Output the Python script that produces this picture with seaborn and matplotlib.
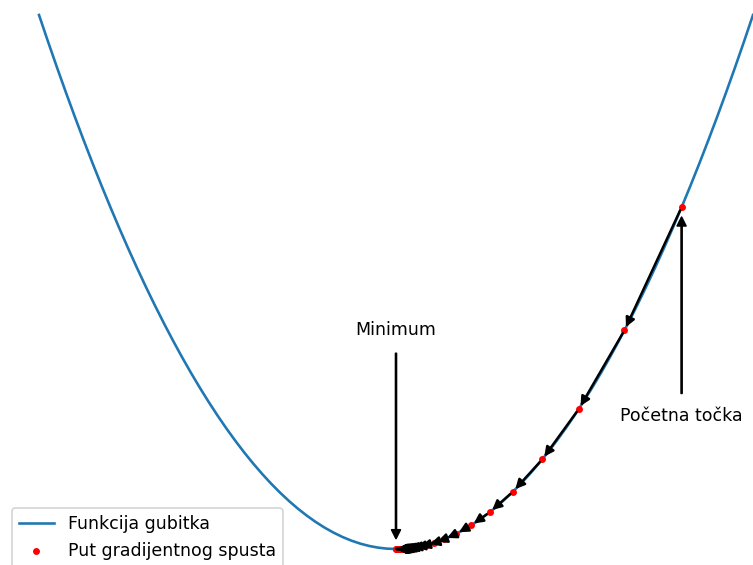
import matplotlib
matplotlib.use("Agg")
import matplotlib.pyplot as plt
import seaborn as sns

# Loss function curve (x, loss), sampled every 0.25
curve_x = [-10.0, -9.75, -9.5, -9.25, -9.0, -8.75, -8.5, -8.25, -8.0, -7.75,
           -7.5, -7.25, -7.0, -6.75, -6.5, -6.25, -6.0, -5.75, -5.5, -5.25,
           -5.0, -4.75, -4.5, -4.25, -4.0, -3.75, -3.5, -3.25, -3.0, -2.75,
           -2.5, -2.25, -2.0, -1.75, -1.5, -1.25, -1.0, -0.75, -0.5, -0.25,
           0.0,
           0.25, 0.5, 0.75, 1.0, 1.25, 1.5, 1.75, 2.0, 2.25, 2.5,
           2.75, 3.0, 3.25, 3.5, 3.75, 4.0, 4.25, 4.5, 4.75, 5.0,
           5.25, 5.5, 5.75, 6.0, 6.25, 6.5, 6.75, 7.0, 7.25, 7.5,
           7.75, 8.0, 8.25, 8.5, 8.75, 9.0, 9.25, 9.5, 9.75, 10.0]
curve_y = [100.0, 95.0625, 90.25, 85.5625, 81.0, 76.5625, 72.25, 68.0625, 64.0, 60.0625,
           56.25, 52.5625, 49.0, 45.5625, 42.25, 39.0625, 36.0, 33.0625, 30.25, 27.5625,
           25.0, 22.5625, 20.25, 18.0625, 16.0, 14.0625, 12.25, 10.5625, 9.0, 7.5625,
           6.25, 5.0625, 4.0, 3.0625, 2.25, 1.5625, 1.0, 0.5625, 0.25, 0.0625,
           0.0,
           0.0625, 0.25, 0.5625, 1.0, 1.5625, 2.25, 3.0625, 4.0, 5.0625, 6.25,
           7.5625, 9.0, 10.5625, 12.25, 14.0625, 16.0, 18.0625, 20.25, 22.5625, 25.0,
           27.5625, 30.25, 33.0625, 36.0, 39.0625, 42.25, 45.5625, 49.0, 52.5625, 56.25,
           60.0625, 64.0, 68.0625, 72.25, 76.5625, 81.0, 85.5625, 90.25, 95.0625, 100.0]

# Gradient descent path
path_x = [8.0, 6.4, 5.12, 4.096, 3.2768, 2.6214, 2.0972, 1.6777, 1.3422, 1.0737,
          0.859, 0.6872, 0.5498, 0.4398, 0.3518, 0.2815, 0.2252, 0.1801, 0.1441,
          0.1153, 0.0922, 0.0738, 0.059, 0.0472, 0.0378, 0.0302, 0.0242, 0.0193,
          0.0155, 0.0124, 0.0099]
path_y = [64.0, 40.96, 26.2144, 16.7772, 10.7374, 6.8719, 4.398, 2.8147, 1.8014,
          1.1529, 0.7379, 0.4722, 0.3022, 0.1934, 0.1238, 0.0792, 0.0507, 0.0325,
          0.0208, 0.0133, 0.0085, 0.0054, 0.0035, 0.0022, 0.0014, 0.0009, 0.0006,
          0.0004, 0.0002, 0.0002, 0.0001]

labels = ["Funkcija gubitka", "Put gradijentnog spusta"]
start_label = "Početna točka"
min_label = "Minimum"

plt.rcParams['font.family'] = ['DejaVu Sans']

fig = plt.figure(figsize=(753 / 125, 565 / 125), dpi=125)
fig.patch.set_facecolor("white")
ax = fig.add_axes([0.0044, -0.0189, 1.043, 1.0396])

sns.lineplot(x=curve_x, y=curve_y, ax=ax, color="#1f77b4", linewidth=1.5,
             label=labels[0], sort=False)
sns.scatterplot(x=path_x, y=path_y, ax=ax, color="red", s=16, linewidth=0,
                label=labels[1], zorder=2)

for i in range(len(path_x) - 1):
    ax.annotate("", xy=(path_x[i + 1], path_y[i + 1]),
                xytext=(path_x[i], path_y[i]),
                arrowprops=dict(arrowstyle="-|>", color="black", lw=1.4,
                                mutation_scale=11))

ax.annotate(min_label, xy=(0, 0), xytext=(0, 40), ha="center",
            arrowprops=dict(facecolor="black", shrink=0.05, width=0.5,
                            headwidth=5, headlength=5))
ax.annotate(start_label, xy=(path_x[0], path_y[0]), xytext=(path_x[0], 24),
            ha="center",
            arrowprops=dict(facecolor="black", shrink=0.05, width=0.5,
                            headwidth=5, headlength=5))

ax.set_xlim(-11, 11)
ax.set_ylim(-5, 105)
ax.axis("off")
ax.legend(loc="lower left")

fig.savefig("out.png", dpi=125)
